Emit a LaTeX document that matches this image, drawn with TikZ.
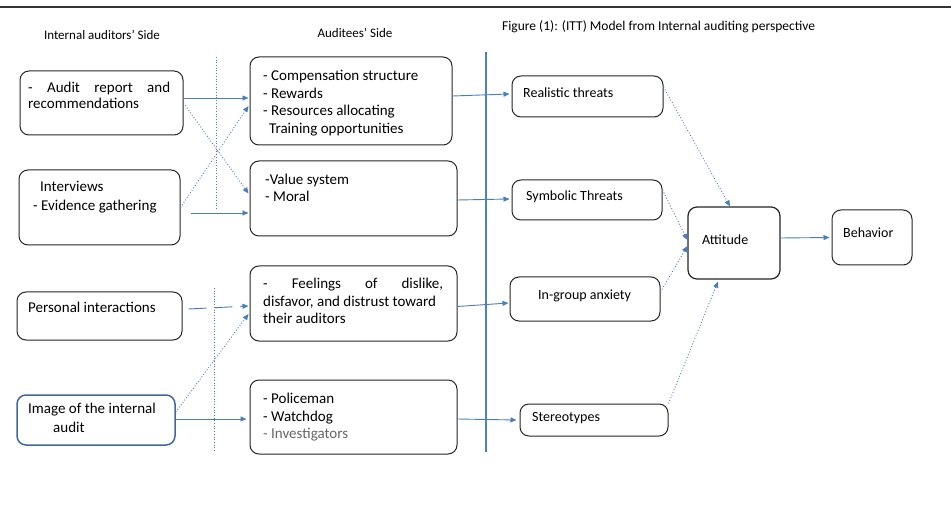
\documentclass[tikz,border=0pt]{standalone}
\usepackage{fontspec}
\setmainfont{Carlito}
\usetikzlibrary{arrows.meta,calc}
\definecolor{arrblue}{HTML}{4A7EBB}
\definecolor{lineblue}{HTML}{4F81BD}
\definecolor{boxblue}{HTML}{41689E}
\begin{document}
\begin{tikzpicture}[x=1pt,y=-1pt,
  box/.style={draw=black!85, line width=1pt, rounded corners=9pt, inner sep=0pt},
  txt/.style={inner sep=0pt, align=left, anchor=north west, font=\fontsize{15}{17.5}\selectfont},
  rtxt/.style={inner sep=0pt, anchor=west, font=\fontsize{14}{16}\selectfont},
  hdr/.style={inner sep=0pt, font=\fontsize{13}{15}\selectfont},
  arr/.style={draw=arrblue, line width=0.9pt, -{Triangle[length=6pt,width=5pt]}},
  darr/.style={arr, dotted},
  sep/.style={draw=arrblue, dotted, line width=0.7pt},
]
\useasboundingbox (0,0) rectangle (951,513);
\fill[white] (0,0) rectangle (951,513);
\draw[black!80, line width=1.5pt] (0,7) -- (951,7);

% headers
\node[hdr] (h1) at (102,35) {Internal auditors' Side};
\node[hdr] (h2) at (355,33) {Auditees' Side};
\node[hdr, anchor=west, font=\fontsize{13.5}{15}\selectfont] (h3) at (502,27) {Figure (1): (ITT) Model from Internal auditing perspective};

% separators
\draw[sep] (216,57) -- (216,210);
\draw[sep] (214,288) -- (214,452);
\draw[lineblue, line width=1.3pt] (486,52) -- (486,452);

% left boxes
\node[box, minimum width=163, minimum height=64] (A1) at (101.5,103) {};
\node[box, minimum width=161, minimum height=75] (A2) at (99.5,207.5) {};
\node[box, minimum width=165, minimum height=48] (A3) at (99.5,316) {};
\node[box, draw=boxblue, line width=1.5pt, minimum width=158, minimum height=50] (A4) at (96,420) {};

\node[txt, font=\fontsize{15}{16}\selectfont] (A1t) at (28,82) {\makebox[142pt][s]{- Audit report and}\\recommendations};
\node[txt, font=\fontsize{15}{19}\selectfont] (A2t) at (33,181) {\hspace*{7pt}Interviews\\- Evidence gathering};
\node[txt] (A3t) at (28,302) {Personal interactions};
\node[txt, font=\fontsize{15}{19}\selectfont] (A4t) at (28,403) {Image of the internal\\\hspace*{25pt}audit};

% middle boxes
\node[box, minimum width=202, minimum height=88] (M1) at (351,101) {};
\node[box, minimum width=207, minimum height=75] (M2) at (353.5,198.5) {};
\node[box, minimum width=207, minimum height=75] (M3) at (353.5,303.5) {};
\node[box, minimum width=207, minimum height=74] (M4) at (353.5,417) {};

\node[txt] (M1t) at (263,70) {- Compensation structure\\- Rewards\\- Resources allocating\\\hspace*{6pt}Training opportunities};
\node[txt, font=\fontsize{15}{17}\selectfont] (M2t) at (265,174) {-Value system\\- Moral};
\node[txt] (M3t) at (263,278) {\makebox[180pt][s]{- \ Feelings \ of \ dislike,}\\disfavor, and distrust toward\\their auditors};
\node[txt] (M4t) at (263,393) {- Policeman\\- Watchdog\\\textcolor{black!60}{- Investigators}};

% right boxes
\node[box, minimum width=151, minimum height=41] (R1) at (587.5,96.5) {};
\node[box, minimum width=150, minimum height=40] (R2) at (587,200) {};
\node[box, minimum width=150, minimum height=44] (R3) at (585,299) {};
\node[box, minimum width=148, minimum height=32] (R4) at (594,420) {};
\node[box, line width=1.2pt, minimum width=92, minimum height=72] (Att) at (734,243) {};
\node[box, minimum width=80, minimum height=55] (Beh) at (872,237.5) {};

\node[rtxt] (R1t) at (523,93) {Realistic threats};
\node[rtxt] (R2t) at (526,197) {Symbolic Threats};
\node[rtxt] (R3t) at (538,296) {In-group anxiety};
\node[rtxt] (R4t) at (532,418) {Stereotypes};
\node[rtxt] (Attt) at (702,240) {Attitude};
\node[rtxt] (Beht) at (843,233) {Behavior};

% left -> middle
\draw[arr] ([yshift=5pt]A1.east) -- ([yshift=3pt,xshift=-1pt]M1.west);
\draw[darr] (A1.east) -- ([yshift=5pt,xshift=-1pt]M2.west);
\draw[darr] (A2.east) -- ([yshift=-5pt,xshift=-1pt]M1.west);
\draw[arr, shorten <=10pt] ([yshift=-5.5pt]A2.east) -- ([yshift=-14.5pt,xshift=-1pt]M2.west);
\draw[arr, dashed, dash pattern=on 18pt off 8pt] ([yshift=7pt,xshift=6pt]A3.east) -- ([yshift=-2.5pt,xshift=-1pt]M3.west);
\draw[darr] ([yshift=8pt]A4.east) -- ([yshift=-10.5pt,xshift=-1pt]M3.west);
\draw[arr] ([yshift=1pt]A4.east) -- ([yshift=-2pt,xshift=-3pt]M4.west);

% middle -> right
\draw[arr] ([yshift=5pt]M1.east) -- ([yshift=2.5pt,xshift=-2pt]R1.west);
\draw[arr] ([yshift=-1.5pt]M2.east) -- ([yshift=1pt,xshift=-2pt]R2.west);
\draw[arr] ([yshift=-3pt]M3.east) -- ([yshift=-4pt,xshift=-1pt]R3.west);
\draw[arr] ([yshift=-2pt]M4.east) -- ([yshift=0pt,xshift=-3pt]R4.west);

% right -> attitude
\draw[darr] ([yshift=9.5pt]R1.east) -- ([xshift=-4pt]Att.north);
\draw[darr] ([yshift=10pt]R2.east) -- ([yshift=3pt]Att.west);
\draw[darr] ([yshift=7pt]R3.east) -- ([yshift=-3pt]Att.west);
\draw[darr] (R4.north east) -- ([xshift=-16pt,yshift=-2pt]Att.south);
\draw[arr] ([yshift=5pt]Att.east) -- ([yshift=0pt,xshift=-2pt]Beh.west);
\end{tikzpicture}
\end{document}
